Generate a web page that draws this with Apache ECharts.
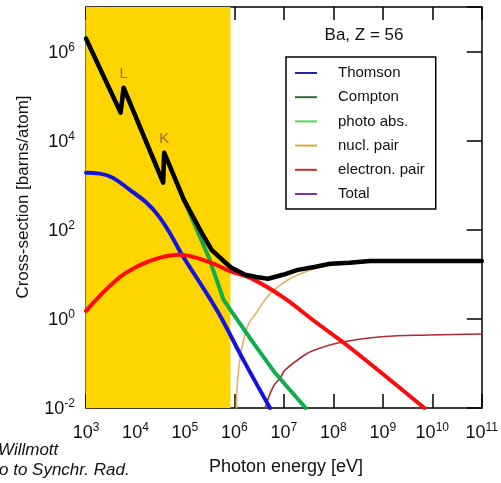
<!DOCTYPE html>
<html>
<head>
<meta charset="utf-8">
<script src="https://cdn.jsdelivr.net/npm/echarts@6/dist/echarts.min.js"></script>
<style>
html,body{margin:0;padding:0;background:#fff;}
#chart{width:501px;height:483px;}
</style>
</head>
<body>
<div id="chart"></div>
<script>
// ---- data (log10 of photon energy [eV], log10 of cross-section [barns/atom]) ----
const xTickExponents = [3, 4, 5, 6, 7, 8, 9, 10, 11];
const yTickExponents = [-2, 0, 2, 4, 6];

const thomsonLogE     = [3.00, 3.28, 3.54, 3.88, 4.22, 4.48, 4.74, 4.94, 5.28, 5.68, 6.18, 6.72];
const thomsonLogSigma = [3.28, 3.26, 3.17, 2.90, 2.61, 2.29, 1.84, 1.44, 0.85, 0.13, -0.92, -2.00];

const comptonLogE     = [3.00, 3.62, 4.06, 4.48, 4.88, 5.48, 5.94, 6.32, 6.98, 7.64, 8.32, 9.84];
const comptonLogSigma = [0.18, 0.88, 1.19, 1.37, 1.44, 1.28, 1.06, 0.92, 0.49, -0.07, -0.63, -2.00];

const photoLogE     = [3.00, 3.70, 3.76, 4.56, 4.58, 4.98, 5.48, 5.78, 5.92, 6.34, 6.82, 7.44];
const photoLogSigma = [6.29, 4.63, 5.19, 3.06, 3.73, 2.67, 1.39, 0.43, 0.20, -0.47, -1.21, -2.00];

const nuclPairLogE     = [6.04, 6.06, 6.14, 6.28, 6.44, 6.62, 6.80, 7.12, 7.44, 7.88, 8.88, 11.0];
const nuclPairLogSigma = [-2.00, -1.44, -0.70, -0.13, 0.13, 0.43, 0.65, 0.90, 1.06, 1.19, 1.28, 1.28];

const elecPairLogE     = [6.62, 6.78, 6.94, 7.02, 7.42, 7.62, 8.18, 8.98, 9.94, 11.0];
const elecPairLogSigma = [-2.00, -1.53, -1.30, -1.15, -0.81, -0.70, -0.52, -0.40, -0.36, -0.34];

const totalLogE     = [3.00, 3.70, 3.76, 4.56, 4.58, 4.98, 5.34, 5.54, 5.82, 5.94, 6.22, 6.44, 6.68, 6.98, 7.28, 7.64, 7.94, 8.32, 8.74, 11.0];
const totalLogSigma = [6.29, 4.63, 5.19, 3.06, 3.73, 2.67, 1.93, 1.55, 1.26, 1.15, 0.99, 0.94, 0.90, 0.99, 1.10, 1.17, 1.24, 1.26, 1.30, 1.30];

const edgeNames = ['L', 'K'];
const edgeLogE = [3.76, 4.58];
const edgeLogSigma = [5.19, 3.73];

const shadedLogE = [3.00, 5.92];   // yellow band
const legendNames = ['Thomson', 'Compton', 'photo abs.', 'nucl. pair', 'electron. pair', 'Total'];
const legendColors = ['#2424a8', '#2f6e33', '#4fd850', '#e2a83a', '#cc2a2a', '#7a34a6'];

// ---- build ----
const FONT = '"Liberation Sans", Arial, Helvetica, sans-serif';
function pairs(xs, ys) { return xs.map((x, i) => [x, ys[i]]); }

const chart = echarts.init(document.getElementById('chart'), null, {renderer: 'canvas'});

const expRich = {
  a: {fontSize: 18, fontFamily: FONT, color: '#111', lineHeight: 20, verticalAlign: 'bottom'},
  b: {fontSize: 12, fontFamily: FONT, color: '#111', lineHeight: 20, verticalAlign: 'top'}
};

function lineSeries(name, xs, ys, color, width, z, smooth) {
  return {
    name: name, type: 'line', data: pairs(xs, ys), showSymbol: false, symbol: 'none',
    smooth: smooth, clip: true, z: z, silent: true,
    lineStyle: {color: color, width: width, cap: 'round', join: 'round'},
    itemStyle: {color: color}
  };
}

const series = [
  lineSeries('nucl. pair', nuclPairLogE, nuclPairLogSigma, '#e0b461', 1.6, 2, 0.4),
  lineSeries('electron. pair', elecPairLogE, elecPairLogSigma, '#b02a36', 1.6, 2, 0.4),
  lineSeries('Thomson', thomsonLogE, thomsonLogSigma, '#1414e0', 4, 3, 0.4),
  lineSeries('photo abs.', photoLogE, photoLogSigma, '#0fae4c', 4, 3, false),
  lineSeries('Compton', comptonLogE, comptonLogSigma, '#ff0a0a', 4, 4, 0.4),
  lineSeries('Total', totalLogE, totalLogSigma, '#000000', 4.5, 5, false)
];

// yellow band
series[0].markArea = {
  silent: true,
  itemStyle: {color: '#ffd500'},
  data: [[{xAxis: shadedLogE[0]}, {xAxis: shadedLogE[1]}]]
};
// edge labels
series[5].markPoint = {
  symbol: 'circle', symbolSize: 0, silent: true,
  label: {show: true, position: 'top', distance: 6, formatter: '{b}',
          fontFamily: FONT, fontSize: 15, color: '#9a6c3c'},
  data: edgeNames.map((n, i) => ({name: n, coord: [edgeLogE[i], edgeLogSigma[i]]}))
};

const axisLineStyle = {color: '#000', width: 1.5};

const option = {
  animation: false,
  backgroundColor: '#fff',
  grid: {left: 86, top: 7, width: 400, height: 401, containLabel: false},
  xAxis: [
    {type: 'value', min: xTickExponents[0], max: xTickExponents[xTickExponents.length - 1], interval: 1,
     position: 'bottom',
     axisLine: {show: true, onZero: false, lineStyle: axisLineStyle},
     axisTick: {show: true, inside: true, length: 14, lineStyle: {color: '#000', width: 1.5}},
     axisLabel: {show: true, margin: 14, formatter: v => '{a|10}{b|' + v + '}', rich: expRich},
     splitLine: {show: false}},
    {type: 'value', min: xTickExponents[0], max: xTickExponents[xTickExponents.length - 1], interval: 1,
     position: 'top',
     axisLine: {show: true, onZero: false, lineStyle: axisLineStyle},
     axisTick: {show: true, inside: true, length: 13, lineStyle: {color: '#000', width: 1.5}},
     axisLabel: {show: false}, splitLine: {show: false}}
  ],
  yAxis: [
    {type: 'value', min: yTickExponents[0], max: 7, interval: 2, position: 'left',
     axisLine: {show: true, onZero: false, lineStyle: {color: '#5a4a2a', width: 1.5}},
     axisTick: {show: true, inside: true, length: 14, lineStyle: {color: '#5a4320', width: 1.5}},
     axisLabel: {show: true, margin: 11,
                 formatter: v => (yTickExponents.indexOf(v) < 0 ? '' : '{a|10}{b|' + v + '}'), rich: expRich},
     splitLine: {show: false}},
    {type: 'value', min: yTickExponents[0], max: 7, interval: 2, position: 'right',
     axisLine: {show: true, onZero: false, lineStyle: axisLineStyle},
     axisTick: {show: true, inside: true, length: 15, lineStyle: {color: '#000', width: 1.5}},
     axisLabel: {show: false}, splitLine: {show: false}}
  ],
  legend: {
    show: true, orient: 'vertical', left: 286, top: 57,
    padding: [8, 11, 7, 9],
    borderColor: '#000', borderWidth: 1.5, backgroundColor: '#fff',
    itemWidth: 22, itemHeight: 2, itemGap: 8.2, icon: 'rect', selectedMode: false,
    textStyle: {fontFamily: FONT, fontSize: 15, color: '#111', lineHeight: 16, padding: [0, 0, 0, 16]},
    data: legendNames.map((n, i) => ({name: n, icon: 'rect', itemStyle: {color: legendColors[i], borderWidth: 0}}))
  },
  graphic: [
    {type: 'text', silent: true, x: 364, y: 35,
     style: {text: 'Ba, Z = 56', x: 0, y: 0, textAlign: 'center', textVerticalAlign: 'middle',
             font: '17px ' + FONT, fill: '#111'}},
    {type: 'text', silent: true, x: 23, y: 197, rotation: Math.PI / 2,
     style: {text: 'Cross-section [barns/atom]', x: 0, y: 0, textAlign: 'center', textVerticalAlign: 'middle',
             font: '17px ' + FONT, fill: '#111'}},
    {type: 'text', silent: true, x: 286, y: 467,
     style: {text: 'Photon energy [eV]', x: 0, y: 0, textAlign: 'center', textVerticalAlign: 'middle',
             font: '18px ' + FONT, fill: '#111'}},
    {type: 'text', silent: true, x: -2, y: 450,
     style: {text: 'Willmott', x: 0, y: 0, textAlign: 'left', textVerticalAlign: 'middle',
             font: 'italic 17px ' + FONT, fill: '#111'}},
    {type: 'text', silent: true, x: -1, y: 470,
     style: {text: 'o to Synchr. Rad.', x: 0, y: 0, textAlign: 'left', textVerticalAlign: 'middle',
             font: 'italic 17px ' + FONT, fill: '#111'}}
  ],
  series: series
};
chart.setOption(option);
</script>
</body>
</html>
